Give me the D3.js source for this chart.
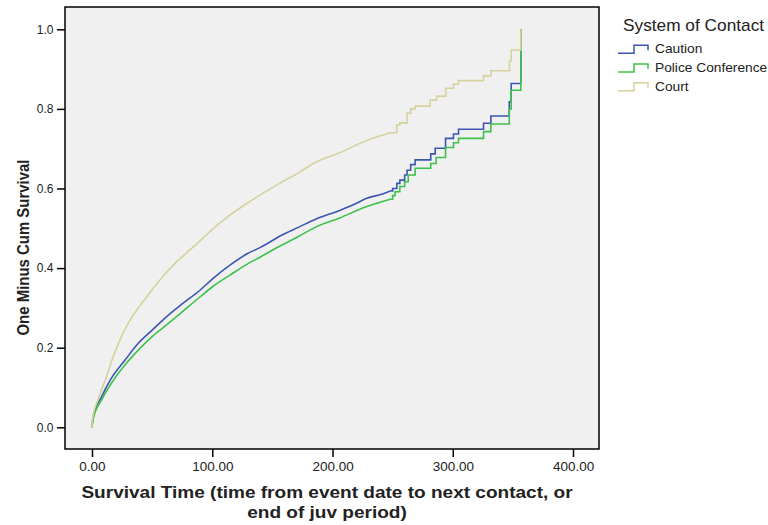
<!DOCTYPE html>
<html>
<head>
<meta charset="utf-8">
<script src="https://cdn.jsdelivr.net/npm/d3@7"></script>
<style>
  body { margin: 0; background: #fff; }
  text { font-family: "Liberation Sans", Arial, sans-serif; fill: #222; }
</style>
</head>
<body>
<svg id="chart"></svg>
<script>
// survival time (days) and one-minus-cum-survival
// smooth part (many tiny steps) then the sparse step part at the end
const cautionTimes = [0, 1, 8, 16, 27.5, 38.5, 50, 63.5, 75, 90, 101, 115, 129, 140, 158, 172, 186, 206, 220, 228, 240, 248];
const cautionValues = [0, 0.027, 0.077, 0.123, 0.169, 0.211, 0.244, 0.282, 0.31, 0.345, 0.375, 0.408, 0.436, 0.452, 0.483, 0.503, 0.523, 0.545, 0.563, 0.575, 0.585, 0.594];
const cautionStepTimes = [248, 250, 253.5, 256, 260, 262, 265, 268.7, 281.7, 285.4, 294, 300.6, 304.8, 325.6, 331.7, 347, 348.6, 356.6];
const cautionStepValues = [0.594, 0.60, 0.613, 0.621, 0.634, 0.646, 0.66, 0.672, 0.687, 0.701, 0.726, 0.737, 0.749, 0.764, 0.782, 0.818, 0.864, 1.0];

const policeTimes = [0, 1, 8, 16, 27.5, 38.5, 50, 63.5, 75, 90, 101, 115, 129, 140, 156, 172, 186, 206, 228, 248];
const policeValues = [0, 0.02, 0.069, 0.11, 0.157, 0.194, 0.228, 0.261, 0.29, 0.328, 0.355, 0.383, 0.41, 0.428, 0.455, 0.48, 0.503, 0.526, 0.554, 0.573];
const policeStepTimes = [248, 250, 252, 256, 260, 263, 268.7, 281.7, 286.2, 294, 300.6, 304.8, 325.6, 331.7, 347, 348.6, 356.6];
const policeStepValues = [0.573, 0.582, 0.592, 0.605, 0.617, 0.634, 0.651, 0.663, 0.678, 0.703, 0.715, 0.726, 0.743, 0.762, 0.80, 0.847, 1.0];

const courtTimes = [0, 0.5, 5, 11, 17, 22, 30, 38.5, 44, 57, 70, 80, 92.6, 101, 112, 129, 140, 156, 172, 186, 206, 228, 248];
const courtValues = [0, 0.023, 0.069, 0.119, 0.172, 0.211, 0.261, 0.30, 0.322, 0.372, 0.415, 0.442, 0.476, 0.5, 0.527, 0.563, 0.584, 0.613, 0.64, 0.666, 0.69, 0.72, 0.74];
const courtStepTimes = [248, 253.5, 256, 262, 265, 268.7, 281.2, 286.6, 294.2, 300.6, 304.8, 325.6, 331.7, 347.2, 348.6, 356.6];
const courtStepValues = [0.74, 0.76, 0.765, 0.789, 0.80, 0.807, 0.822, 0.832, 0.852, 0.862, 0.871, 0.883, 0.896, 0.921, 0.948, 1.0];

const seriesNames = ["Caution", "Police Conference", "Court"];
const seriesColors = ["#3c55b0", "#3cc24a", "#d6d29c"];
const xTicks = [0, 100, 200, 300, 400];
const yTicks = [0, 0.2, 0.4, 0.6, 0.8, 1.0];

const config = {
    width: 768,
    height: 525,
    plot: {left: 65, right: 599, top: 7, bottom: 449}
};

const series = [
    {name: seriesNames[0], color: seriesColors[0], smooth: d3.zip(cautionTimes, cautionValues), steps: d3.zip(cautionStepTimes, cautionStepValues)},
    {name: seriesNames[1], color: seriesColors[1], smooth: d3.zip(policeTimes, policeValues), steps: d3.zip(policeStepTimes, policeStepValues)},
    {name: seriesNames[2], color: seriesColors[2], smooth: d3.zip(courtTimes, courtValues), steps: d3.zip(courtStepTimes, courtStepValues)}
];

const svg = d3.select("#chart")
    .attr("width", config.width)
    .attr("height", config.height);

const p = config.plot;

// scales: 0 sits at x=92, 400 at x=573; 0.0 at y=427, 1.0 at y=29
const x = d3.scaleLinear().domain([0, 400]).range([92, 573]);
const y = d3.scaleLinear().domain([0, 1]).range([427.3, 29.3]);

// plot background
svg.append("rect")
    .attr("x", p.left)
    .attr("y", p.top)
    .attr("width", p.right - p.left)
    .attr("height", p.bottom - p.top)
    .attr("fill", "#f0f0f0");

// axes, ticks outside, no domain line (frame drawn separately)
const xAxis = d3.axisBottom(x).tickValues(xTicks).tickSize(8).tickSizeOuter(0).tickFormat(d3.format(".2f"));
const yAxis = d3.axisLeft(y).tickValues(yTicks).tickSize(8).tickSizeOuter(0).tickFormat(d3.format(".1f"));

const xAxisG = svg.append("g")
    .attr("transform", `translate(0,${p.bottom})`)
    .call(xAxis)
    .call(g => g.select(".domain").remove());
xAxisG.selectAll(".tick line").attr("stroke", "#000").attr("stroke-width", 1.5);
xAxisG.selectAll(".tick text")
    .attr("y", 13)
    .attr("transform", "scale(1.08,1)")
    .style("font-size", "12.5px")
    .style("fill", "#222")
    .attr("font-family", null);

const yAxisG = svg.append("g")
    .attr("transform", `translate(${p.left},0)`)
    .call(yAxis)
    .call(g => g.select(".domain").remove());
yAxisG.selectAll(".tick line").attr("stroke", "#000").attr("stroke-width", 1.5);
yAxisG.selectAll(".tick text")
    .attr("x", -11.5)
    .style("font-size", "12px")
    .style("fill", "#222")
    .attr("font-family", null);

// curves
const smoothLine = d3.line().x(d => x(d[0])).y(d => y(d[1])).curve(d3.curveMonotoneX);
const stepLine = d3.line().x(d => x(d[0])).y(d => y(d[1])).curve(d3.curveStepAfter);

const lines = svg.append("g").attr("fill", "none").attr("stroke-width", 1.6);
series.forEach(s => {
    lines.append("path").attr("d", smoothLine(s.smooth)).attr("stroke", s.color);
    lines.append("path").attr("d", stepLine(s.steps)).attr("stroke", s.color);
});

// frame
svg.append("rect")
    .attr("x", p.left)
    .attr("y", p.top)
    .attr("width", p.right - p.left)
    .attr("height", p.bottom - p.top)
    .attr("fill", "none")
    .attr("stroke", "#000")
    .attr("stroke-width", 1.5);

// axis titles (the original text is a bit wider than Arial, hence the x scale)
svg.append("text")
    .attr("transform", "translate(327,0) scale(1.12,1)")
    .attr("text-anchor", "middle")
    .style("font-size", "17px")
    .style("font-weight", "bold")
    .selectAll("tspan")
    .data(["Survival Time (time from event date to next contact, or", "end of juv period)"])
    .join("tspan")
    .attr("x", 0)
    .attr("y", (d, i) => 498 + i * 20)
    .text(d => d);

svg.append("text")
    .attr("transform", "translate(28.5,247.5) rotate(-90)")
    .attr("text-anchor", "middle")
    .attr("textLength", 176)
    .attr("lengthAdjust", "spacingAndGlyphs")
    .style("font-size", "17px")
    .style("font-weight", "bold")
    .text("One Minus Cum Survival");

// legend
const legend = svg.append("g");
legend.append("text")
    .attr("transform", "translate(623,31) scale(1.08,1)")
    .style("font-size", "16px")
    .text("System of Contact");

const legendItems = legend.selectAll(".item")
    .data(series)
    .join("g")
    .attr("class", "item")
    .attr("transform", (d, i) => `translate(0,${53.3 + i * 18.7})`);

legendItems.append("path")
    .attr("d", "M618,0 H634 V-8 H648 V-3")
    .attr("fill", "none")
    .attr("stroke", d => d.color)
    .attr("stroke-width", 1.5);

legendItems.append("text")
    .attr("transform", "translate(655,0) scale(1.1,1)")
    .style("font-size", "12.5px")
    .text(d => d.name);
</script>
</body>
</html>
